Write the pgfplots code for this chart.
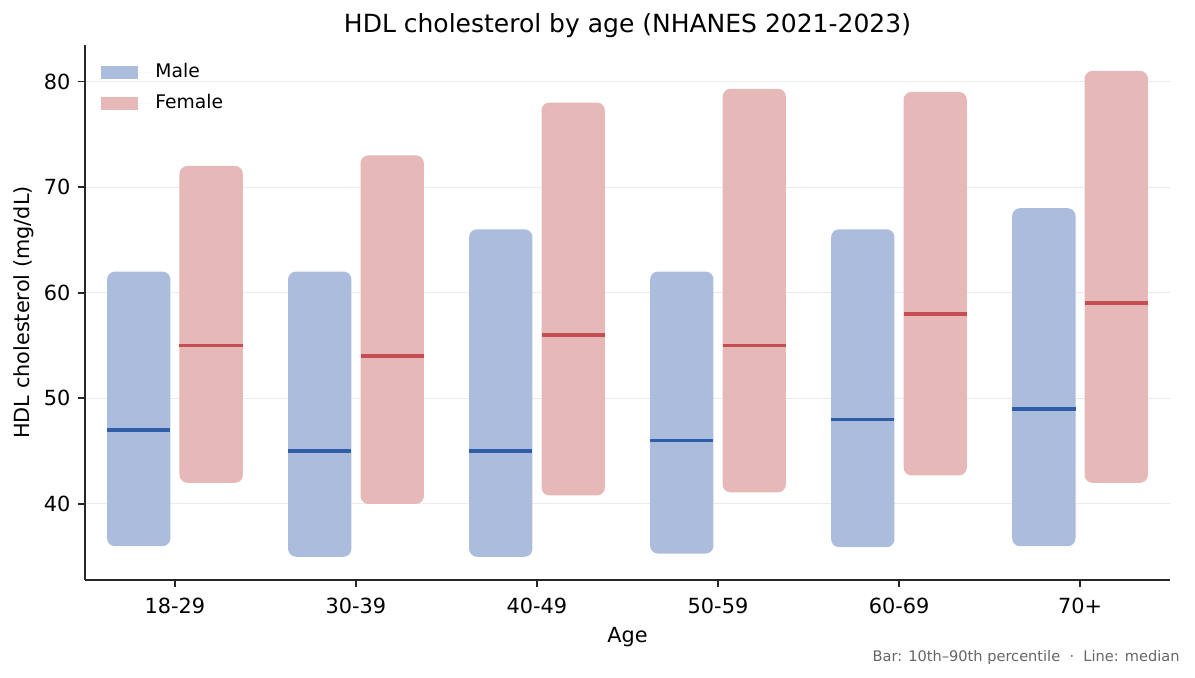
\documentclass[border=0pt]{standalone}
\usepackage{fontspec}
\setmainfont{DejaVu Sans}
\usepackage{pgfplots}
\usepackage{pgfplotstable}
\pgfplotsset{compat=1.18}

\definecolor{malefill}{HTML}{ABBCDD}
\definecolor{femalefill}{HTML}{E6B8B8}
\definecolor{maleline}{HTML}{2E5DA9}
\definecolor{femaleline}{HTML}{C44E52}
\definecolor{gridgray}{HTML}{EBEBEB}
\definecolor{spine}{HTML}{262626}
\definecolor{notegray}{HTML}{666666}

% HDL cholesterol (mg/dL): 10th percentile, median, 90th percentile per age group
\pgfplotstableread{
grp lo   med  hi
0   36.0 47.0 62.0
1   35.0 45.0 62.0
2   35.0 45.0 66.0
3   35.3 46.0 62.0
4   35.9 48.0 66.0
5   36.0 49.0 68.0
}\maletab
\pgfplotstableread{
grp lo   med  hi
0   42.0 55.0 72.0
1   40.0 54.0 73.0
2   40.8 56.0 78.0
3   41.1 55.0 79.3
4   42.7 58.0 79.0
5   42.0 59.0 81.0
}\femaletab

% one rounded range bar (lo..hi) with its median line, bar width 0.35
% #1 table, #2 row, #3 x position, #4 fill colour, #5 median colour
\newcommand\rangebar[5]{%
  \pgfplotstablegetelem{#2}{lo}\of#1\let\rblo\pgfplotsretval
  \pgfplotstablegetelem{#2}{med}\of#1\let\rbmed\pgfplotsretval
  \pgfplotstablegetelem{#2}{hi}\of#1\let\rbhi\pgfplotsretval
  \pgfmathsetmacro\rbxl{#3-0.175}%
  \pgfmathsetmacro\rbxr{#3+0.175}%
  \edef\rbcmd{%
    \noexpand\addplot[fill=#4, draw=none, rounded corners=3.8pt]
      coordinates {(#3,\rblo) (\rbxr,\rblo) (\rbxr,\rbhi) (\rbxl,\rbhi)
                   (\rbxl,\rblo) (#3,\rblo)};
    \noexpand\addplot[draw=#5, line width=1.8pt]
      coordinates {(\rbxl,\rbmed) (\rbxr,\rbmed)};}%
  \rbcmd
}

\begin{document}
\begin{tikzpicture}
\begin{axis}[
  at={(0,0)}, anchor=south west,
  scale only axis, width=520.8pt, height=256.8pt,
  xmin=-0.497, xmax=5.497, ymin=32.8, ymax=83.45,
  axis lines*=left,
  axis line style={spine, line width=0.8pt},
  tick style={spine, line width=0.8pt},
  tick align=outside, major tick length=3.5pt,
  xtick={0,1,2,3,4,5},
  xticklabels={18-29,30-39,40-49,50-59,60-69,70+},
  xticklabel style={yshift=-1.5pt},
  ytick={40,50,60,70,80},
  ymajorgrids, major grid style={gridgray, line width=0.5pt},
  tick label style={font=\fontsize{10}{12}\selectfont},
  /pgf/number format/assume math mode=true,
  legend style={at={(rel axis cs:0,1)}, anchor=north west,
    draw=none, fill=none, font=\fontsize{9}{11}\selectfont,
    xshift=4.4pt, yshift=-4.8pt, row sep=2.5pt},
  legend cell align=left,
  legend image code/.code={%
    \fill[#1] (0pt,-3.1pt) rectangle (18pt,3.1pt);
    \path (0pt,0pt) -- (24.2pt,0pt);},
]
\addlegendimage{fill=malefill, draw=none}
\addlegendentry{Male}
\addlegendimage{fill=femalefill, draw=none}
\addlegendentry{Female}

\rangebar{\maletab}{0}{-0.2}{malefill}{maleline}
\rangebar{\maletab}{1}{0.8}{malefill}{maleline}
\rangebar{\maletab}{2}{1.8}{malefill}{maleline}
\rangebar{\maletab}{3}{2.8}{malefill}{maleline}
\rangebar{\maletab}{4}{3.8}{malefill}{maleline}
\rangebar{\maletab}{5}{4.8}{malefill}{maleline}

\rangebar{\femaletab}{0}{0.2}{femalefill}{femaleline}
\rangebar{\femaletab}{1}{1.2}{femalefill}{femaleline}
\rangebar{\femaletab}{2}{2.2}{femalefill}{femaleline}
\rangebar{\femaletab}{3}{3.2}{femalefill}{femaleline}
\rangebar{\femaletab}{4}{4.2}{femalefill}{femaleline}
\rangebar{\femaletab}{5}{5.2}{femalefill}{femaleline}
\end{axis}

\node[anchor=base, font=\fontsize{12}{14}\selectfont] at (260.4pt,262.6pt)
  {HDL cholesterol by age (NHANES 2021-2023)};
\node[anchor=base, font=\fontsize{10}{12}\selectfont] at (260.4pt,-29.8pt) {Age};
\node[anchor=base, rotate=90, font=\fontsize{10}{12}\selectfont] at (-26.5pt,128.4pt)
  {HDL cholesterol (mg/dL)};
\node[anchor=base east, inner sep=0pt, text=notegray, font=\fontsize{7}{8}\selectfont]
  at (525.6pt,-38.9pt) {Bar: 10th–90th percentile \ · \ Line: median};

\pgfresetboundingbox
\path (-40.8pt,-47.04pt) rectangle (532.8pt,278.4pt);
\end{tikzpicture}
\end{document}
